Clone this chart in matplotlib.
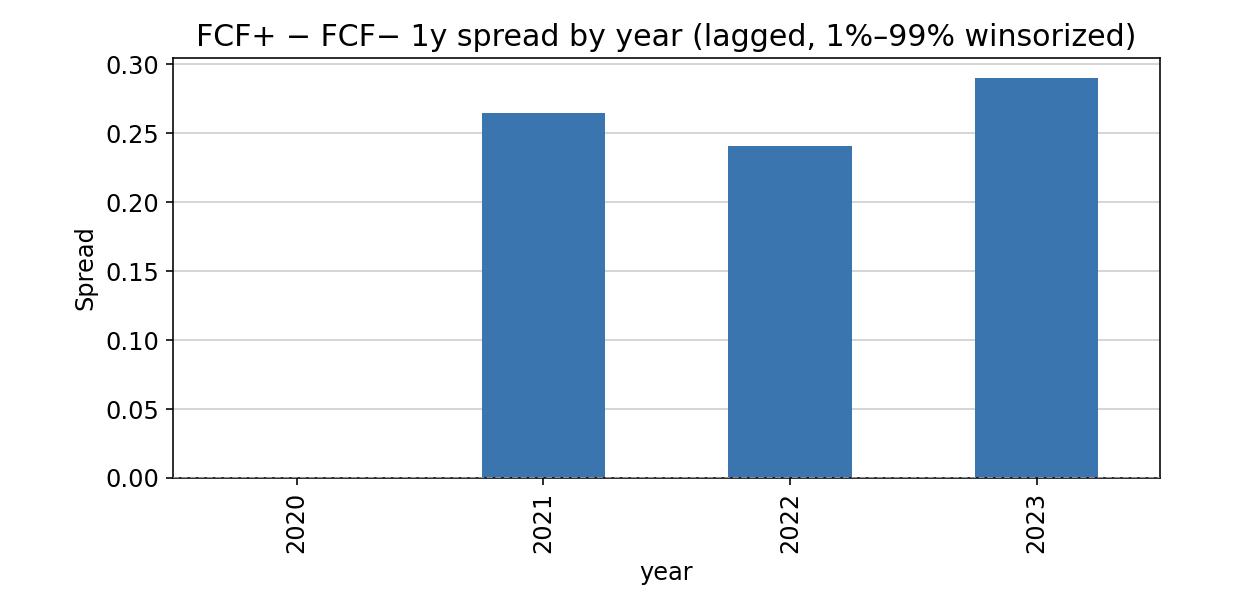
import matplotlib
matplotlib.use("Agg")
import matplotlib.pyplot as plt

years = ["2020", "2021", "2022", "2023"]
spread = [0.0, 0.265, 0.241, 0.290]

fig = plt.figure(figsize=(1246 / 144, 614 / 144), dpi=144)
ax = fig.add_axes([0.139, 0.2215, 0.792, 0.684])
ax.bar(range(len(years)), spread, width=0.5, color="#3a75af", zorder=2)
ax.axhline(0, color="#aaaaaa", linestyle="--", linewidth=0.8, zorder=3)
ax.set_xticks(range(len(years)))
ax.set_xticklabels(years, rotation=90, fontsize=12)
ax.set_xlim(-0.5, 3.5)
ax.set_ylim(0, 0.3045)
ax.tick_params(axis="y", labelsize=12)
ax.yaxis.grid(True, color="#cccccc", zorder=0)
ax.set_axisbelow(True)
ax.set_xlabel("year", fontsize=12)
ax.set_ylabel("Spread", fontsize=12)
ax.set_title("FCF+ \u2212 FCF\u2212 1y spread by year (lagged, 1%\u201399% winsorized)", fontsize=15)
fig.savefig("out.png", dpi=144)
